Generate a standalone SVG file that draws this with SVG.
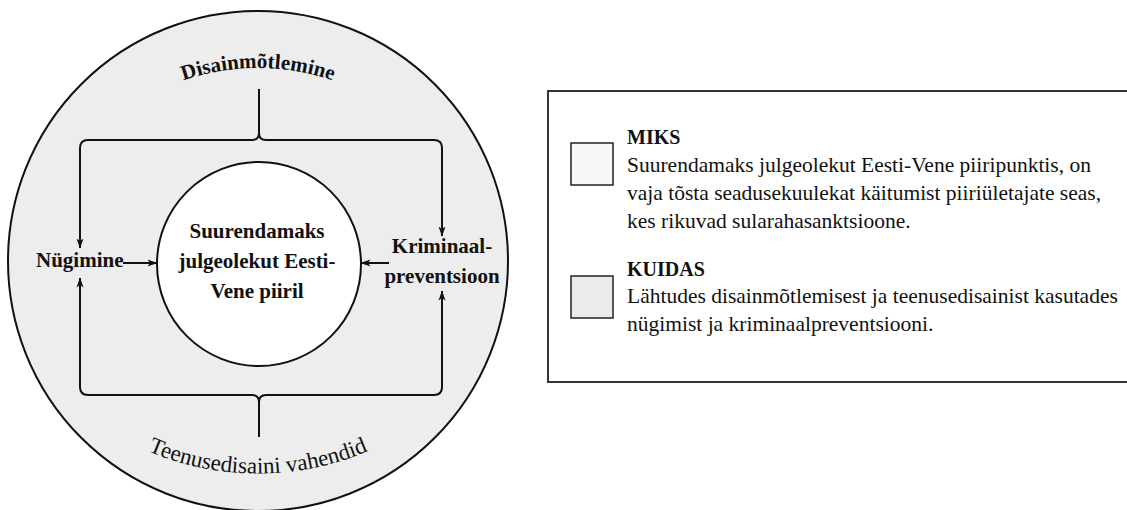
<svg xmlns="http://www.w3.org/2000/svg" width="1127" height="510" viewBox="0 0 1127 510">
<style>
.b{font-family:"Liberation Serif","Times New Roman",serif;font-weight:bold;fill:#111}
.r{font-family:"Liberation Serif","Times New Roman",serif;fill:#111}
.ln{fill:none;stroke:#111;stroke-width:2}
</style>
<defs>
<marker id="ah" viewBox="0 0 10 8" refX="9.5" refY="4" markerWidth="10" markerHeight="8" markerUnits="userSpaceOnUse" orient="auto">
<path d="M0,0.5 L10,4 L0,7.5 L2.5,4 Z" fill="#111"/>
</marker>
<path id="topArc" d="M78,154.8 A230,230 0 0 1 438,154.8"/>
<path id="botArc" d="M108,430 A280,280 0 0 0 408,430"/>
</defs>
<rect width="1127" height="510" fill="#fff"/>
<g id="outer">
<circle cx="258" cy="261" r="250" fill="#ededed" stroke="#111" stroke-width="2"/>
<text class="b" font-size="21" text-anchor="middle"><textPath href="#topArc" startOffset="50%">Disainmõtlemine</textPath></text>
<text class="r" font-size="23" text-anchor="middle"><textPath href="#botArc" startOffset="50%">Teenusedisaini vahendid</textPath></text>
</g>
<g id="center">
<circle cx="259" cy="264" r="102" fill="#fff" stroke="#111" stroke-width="2"/>
<text class="b" font-size="21" text-anchor="middle"><tspan x="257" y="238">Suurendamaks</tspan><tspan x="257" y="268">julgeolekut Eesti-</tspan><tspan x="257" y="298">Vene piiril</tspan></text>
</g>
<g id="nugimine">
<text class="b" font-size="21" x="36" y="267">Nügimine</text>
</g>
<g id="kriminaal">
<text class="b" font-size="21" text-anchor="middle"><tspan x="442" y="253">Kriminaal-</tspan><tspan x="442" y="283">preventsioon</tspan></text>
</g>
<g id="connectors">
<path class="ln" d="M259,89 V133 Q259,140 252,140 H88 Q80,140 80,148 V248" marker-end="url(#ah)"/>
<path class="ln" d="M259,133 Q259,140 266,140 H434 Q442,140 442,148 V236" marker-end="url(#ah)"/>
<path class="ln" d="M259,437 V402 Q259,395 252,395 H88 Q80,395 80,387 V278" marker-end="url(#ah)"/>
<path class="ln" d="M259,402 Q259,395 266,395 H434 Q442,395 442,387 V291" marker-end="url(#ah)"/>
<path class="ln" d="M123,263 H157" marker-end="url(#ah)" stroke-width="1.5"/>
<path class="ln" d="M389,263 H361" marker-end="url(#ah)" stroke-width="1.5"/>
</g>
<g id="legend">
<rect x="548" y="91" width="590" height="291" fill="#fff" stroke="#333" stroke-width="2"/>
<rect x="571" y="143" width="42" height="42" fill="#f8f8f8" stroke="#222" stroke-width="1.5"/>
<rect x="571" y="276" width="42" height="42" fill="#ebebeb" stroke="#222" stroke-width="1.5"/>
<text class="b" font-size="20" x="627" y="144">MIKS</text>
<text class="r" font-size="21.5"><tspan x="627" y="172">Suurendamaks julgeolekut Eesti-Vene piiripunktis, on</tspan><tspan x="627" y="200">vaja tõsta seadusekuulekat käitumist piiriületajate seas,</tspan><tspan x="627" y="228">kes rikuvad sularahasanktsioone.</tspan></text>
<text class="b" font-size="20" x="627" y="276">KUIDAS</text>
<text class="r" font-size="21.5"><tspan x="627" y="303">Lähtudes disainmõtlemisest ja teenusedisainist kasutades</tspan><tspan x="627" y="331">nügimist ja kriminaalpreventsiooni.</tspan></text>
</g>
</svg>
